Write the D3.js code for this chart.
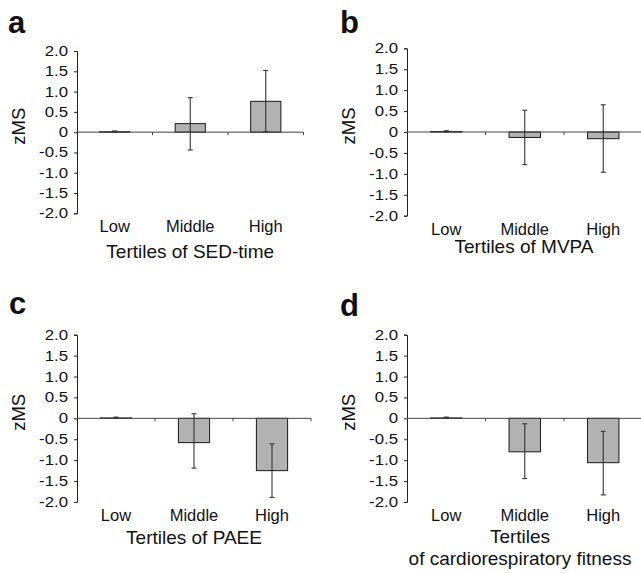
<!DOCTYPE html>
<html>
<head>
<meta charset="utf-8">
<style>
  body { margin: 0; background: #fff; }
  text { font-family: "Liberation Sans", Arial, sans-serif; fill: #111; }
</style>
</head>
<body>
<div id="chart"></div>
<script src="https://d3js.org/d3.v7.min.js"></script>
<script>
// tertile groups, same for every panel
var categories = ["Low", "Middle", "High"];
var yTicks = [2.0, 1.5, 1.0, 0.5, 0, -0.5, -1.0, -1.5, -2.0];

// mean zMS per tertile, and the ends of the error bars
var sedValues = [0.01, 0.21, 0.76];
var sedLower = [0.0, -0.44, 0.01];
var sedUpper = [0.03, 0.85, 1.52];

var mvpaValues = [0.01, -0.13, -0.16];
var mvpaLower = [0.0, -0.78, -0.96];
var mvpaUpper = [0.03, 0.52, 0.65];

var paeeValues = [0.01, -0.58, -1.25];
var paeeLower = [0.0, -1.19, -1.89];
var paeeUpper = [0.03, 0.11, -0.61];

var fitValues = [0.01, -0.80, -1.06];
var fitLower = [0.0, -1.44, -1.83];
var fitUpper = [0.03, -0.13, -0.31];

var W = 641, H = 573;
var svg = d3.select("#chart").append("svg")
    .attr("width", W)
    .attr("height", H);

var panels = [
    { letter: "a", lx: 8, ly: 33, x0: 77, x1: 303.5, yTop: 51, yBot: 213.3,
      title: ["Tertiles of SED-time"], titleY: [258],
      values: sedValues, lower: sedLower, upper: sedUpper },
    { letter: "b", lx: 340, ly: 33, x0: 407, x1: 642.5, yTop: 48.3, yBot: 215.7,
      title: ["Tertiles of MVPA"], titleY: [253],
      values: mvpaValues, lower: mvpaLower, upper: mvpaUpper },
    { letter: "c", lx: 9, ly: 314, x0: 77, x1: 311, yTop: 334.7, yBot: 502,
      title: ["Tertiles of PAEE"], titleY: [544],
      values: paeeValues, lower: paeeLower, upper: paeeUpper },
    { letter: "d", lx: 340, ly: 316, x0: 407, x1: 642.5, yTop: 334.7, yBot: 502,
      title: ["Tertiles", "of cardiorespiratory fitness"], titleY: [543, 565],
      values: fitValues, lower: fitLower, upper: fitUpper }
];

var stretch = 1.2; // tick labels in the original are drawn wide

panels.forEach(function (p) {
    var g = svg.append("g");

    var x = d3.scaleBand()
        .domain(categories)
        .range([p.x0, p.x1])
        .paddingInner(0.6)
        .paddingOuter(0.3);

    var y = d3.scaleLinear()
        .domain([-2, 2])
        .range([p.yBot, p.yTop]);

    // panel letter
    g.append("text")
        .attr("x", p.lx)
        .attr("y", p.ly)
        .style("font-size", "31px")
        .style("font-weight", "bold")
        .text(p.letter);

    // y axis
    var yAxis = d3.axisLeft(y)
        .tickValues(yTicks)
        .tickSize(3)
        .tickPadding(6)
        .tickFormat(function (d) { return d === 0 ? "0" : d3.format(".1f")(d).replace("−", "-"); });

    var ya = g.append("g")
        .attr("transform", "translate(" + p.x0 + ",0)")
        .call(yAxis);
    ya.selectAll("path, line").attr("stroke", "#222");
    ya.selectAll("text")
        .attr("x", -9 / stretch)
        .attr("transform", "scale(" + stretch + ",1)")
        .style("font-size", "14px")
        .style("font-family", "Liberation Sans, Arial, sans-serif")
        .attr("fill", "#111");

    // bars
    var data = categories.map(function (c, i) {
        return { cat: c, v: p.values[i], lo: p.lower[i], hi: p.upper[i] };
    });

    g.selectAll("rect.bar")
        .data(data)
        .enter()
        .append("rect")
        .attr("class", "bar")
        .attr("x", function (d) { return x(d.cat); })
        .attr("width", x.bandwidth())
        .attr("y", function (d) { return y(Math.max(0, d.v)); })
        .attr("height", function (d) { return Math.abs(y(d.v) - y(0)); })
        .attr("fill", "#b2b2b2")
        .attr("stroke", "#1a1a1a")
        .attr("stroke-width", 1);

    // x axis along zero
    g.append("line")
        .attr("x1", p.x0).attr("x2", p.x1)
        .attr("y1", y(0)).attr("y2", y(0))
        .attr("stroke", "#444")
        .attr("stroke-width", 1);

    g.selectAll("line.xtick")
        .data([1, 2, 3])
        .enter()
        .append("line")
        .attr("class", "xtick")
        .attr("x1", function (d) { return p.x0 + (p.x1 - p.x0) * d / 3; })
        .attr("x2", function (d) { return p.x0 + (p.x1 - p.x0) * d / 3; })
        .attr("y1", y(0))
        .attr("y2", y(0) + 3)
        .attr("stroke", "#444");

    // error bars
    var cap = 2.5;
    var eb = g.selectAll("g.err")
        .data(data)
        .enter()
        .append("g")
        .attr("class", "err")
        .attr("stroke", "#333")
        .attr("stroke-width", 1.1);

    eb.append("line")
        .attr("x1", function (d) { return x(d.cat) + x.bandwidth() / 2; })
        .attr("x2", function (d) { return x(d.cat) + x.bandwidth() / 2; })
        .attr("y1", function (d) { return y(d.hi); })
        .attr("y2", function (d) { return y(d.lo); });

    eb.append("line")
        .attr("x1", function (d) { return x(d.cat) + x.bandwidth() / 2 - cap; })
        .attr("x2", function (d) { return x(d.cat) + x.bandwidth() / 2 + cap; })
        .attr("y1", function (d) { return y(d.hi); })
        .attr("y2", function (d) { return y(d.hi); });

    eb.append("line")
        .attr("x1", function (d) { return x(d.cat) + x.bandwidth() / 2 - cap; })
        .attr("x2", function (d) { return x(d.cat) + x.bandwidth() / 2 + cap; })
        .attr("y1", function (d) { return y(d.lo); })
        .attr("y2", function (d) { return y(d.lo); });

    // category labels
    g.selectAll("text.cat")
        .data(categories)
        .enter()
        .append("text")
        .attr("class", "cat")
        .attr("x", function (d) { return x(d) + x.bandwidth() / 2; })
        .attr("y", p.yBot + 19)
        .attr("text-anchor", "middle")
        .style("font-size", "16.5px")
        .text(function (d) { return d; });

    // axis title
    p.title.forEach(function (t, i) {
        g.append("text")
            .attr("x", (p.x0 + Math.min(p.x1, W)) / 2 + (p.title.length > 1 ? -4 : 0))
            .attr("y", p.titleY[i])
            .attr("text-anchor", "middle")
            .style("font-size", "19px")
            .text(t);
    });

    // y label
    g.append("text")
        .attr("transform", "translate(" + (p.x0 - 52) + "," + (y(0) - 6) + ") rotate(-90)")
        .attr("text-anchor", "middle")
        .style("font-size", "18.5px")
        .text("zMS");
});
</script>
</body>
</html>
